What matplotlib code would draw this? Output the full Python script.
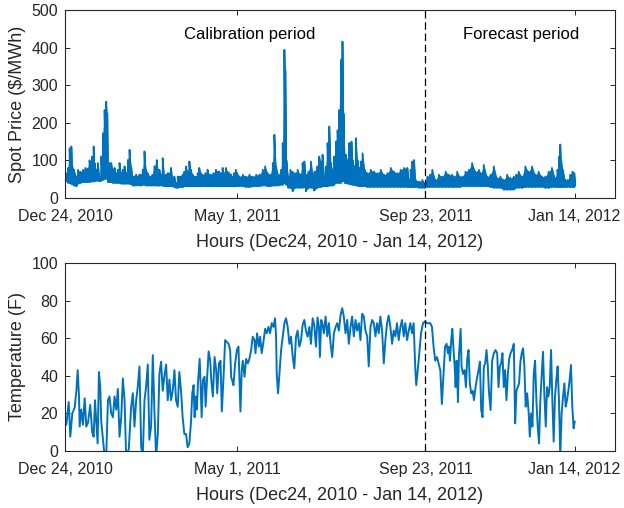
import matplotlib
matplotlib.use("Agg")
import matplotlib.pyplot as plt
import numpy as np

# -----------------------------
# Data (days since Dec 24, 2010)
# -----------------------------
PRICE_DAY = [
    0.5, 2.3, 3.5, 4.8, 5.5, 6.8, 8.6, 9.8, 11.6, 13.6, 15.4, 16.9, 18.6, 19.9,
    20.6, 21.7, 22.4, 23.7, 24.9, 26.2, 27.4, 28.7, 30.0, 31.2, 32.0, 32.7,
    33.7, 35.0, 36.3, 37.5, 38.8, 40.0, 41.3, 42.6, 43.8, 45.1, 46.3, 47.6,
    48.9, 50.1, 51.4, 52.6, 53.9, 55.1, 56.4, 57.7, 58.9, 60.2, 61.4, 62.7,
    64.5, 66.0, 67.7, 69.5, 70.5, 71.5, 72.8, 74.0, 75.3, 76.6, 77.8, 79.1,
    80.3, 81.6, 82.8, 84.1, 85.4, 86.6, 87.9, 89.1, 90.4, 91.7, 92.9, 94.2,
    95.4, 96.7, 98.0, 99.2, 100.5, 101.7, 103.0, 104.3, 106.3, 108.0, 109.3,
    110.6, 112.3, 114.3, 115.6, 116.8, 118.1, 119.4, 120.6, 121.9, 123.1,
    124.4, 125.7, 126.9, 128.2, 129.4, 132.2, 134.7, 137.2, 139.7, 142.3,
    144.8, 147.3, 149.8, 151.6, 153.6, 155.6, 157.4, 158.6, 159.9, 161.6,
    163.7, 164.9, 166.2, 166.9, 167.7, 169.2, 170.7, 172.5, 174.2, 176.2,
    178.3, 180.0, 181.3, 182.5, 184.3, 186.3, 187.8, 188.8, 190.9, 192.6,
    193.9, 195.1, 196.4, 197.7, 198.9, 200.2, 201.4, 202.7, 203.9, 205.2,
    206.5, 207.7, 209.0, 210.2, 211.0, 212.0, 212.8, 214.0, 215.3, 216.0,
    217.0, 218.0, 219.1, 220.3, 221.6, 222.8, 224.1, 225.4, 227.1, 229.1,
    231.6, 234.2, 236.7, 239.2, 241.7, 244.2, 246.8, 249.3, 251.8, 254.3,
    256.8, 259.3, 260.6, 261.8, 263.1, 264.4, 265.6, 268.1, 270.7, 272.4,
    274.4, 276.4, 278.2, 280.7, 283.2, 285.8, 288.3, 290.8, 293.3, 295.1,
    297.1, 299.1, 300.9, 303.4, 305.9, 308.4, 311.0, 313.5, 315.2, 317.2,
    319.8, 322.3, 324.8, 327.3, 329.8, 332.4, 334.9, 337.4, 339.9, 341.7,
    343.7, 346.2, 348.7, 351.2, 353.8, 356.3, 358.8, 361.3, 363.8, 366.3,
    368.9, 371.4, 373.1, 374.4, 375.2, 375.9, 377.2, 378.9, 380.7, 382.7,
    384.5, 385.8, 386.5,
]
PRICE_LOW = [
    45, 40, 40, 38, 36, 33, 31, 38, 40, 42, 42, 42, 42, 44,
    44, 44, 44, 46, 46, 44, 46, 48, 50, 55, 50, 42,
    42, 42, 40, 40, 40, 40, 40, 38, 38, 38, 38, 38,
    38, 36, 33, 33, 33, 35, 33, 33, 35, 35, 33, 33,
    33, 33, 33, 33, 33, 33, 33, 33, 31, 31, 31, 31,
    31, 31, 29, 27, 27, 29, 29, 29, 31, 31, 31, 31,
    31, 31, 31, 31, 31, 31, 31, 31, 31, 31, 31,
    31, 31, 31, 31, 31, 31, 31, 31, 31, 31,
    31, 31, 31, 31, 31, 31, 31, 29, 29, 31,
    31, 31, 33, 33, 31, 31, 33, 33, 33, 33,
    35, 35, 40, 40, 35, 27, 27, 18, 27, 27,
    27, 27, 29, 18, 27, 27, 27, 20, 27, 29,
    29, 31, 31, 31, 31, 33, 33, 33, 35, 40,
    40, 40, 40, 45, 45, 40, 40, 38, 38, 36,
    36, 35, 35, 33, 33, 31, 31, 31, 31, 29,
    29, 29, 29, 29, 29, 29, 29, 29, 29, 29,
    29, 29, 29, 29, 29, 29, 29, 27, 27, 27,
    29, 29, 29, 29, 29, 29, 29, 29, 29, 29,
    29, 29, 31, 31, 31, 31, 31, 31, 31, 31,
    31, 29, 27, 27, 27, 22, 22, 22, 22, 27,
    27, 27, 29, 29, 29, 29, 29, 29, 27, 27,
    29, 29, 29, 29, 29, 29, 29, 29, 29, 29,
    29, 29, 33,
]
PRICE_HIGH = [
    66, 80, 132, 137, 84, 75, 57, 75, 70, 75, 80, 78, 100, 85,
    110, 137, 93, 75, 93, 50, 110, 172, 234, 256, 225, 50,
    93, 93, 75, 80, 66, 75, 93, 66, 75, 84, 66, 101,
    128, 84, 57, 57, 62, 57, 62, 62, 75, 124, 75, 66,
    57, 62, 84, 101, 75, 75, 62, 106, 57, 62, 66, 66,
    80, 48, 57, 40, 57, 57, 57, 62, 70, 84, 70, 97,
    75, 62, 57, 57, 66, 80, 66, 62, 66, 75, 62,
    62, 66, 75, 70, 70, 66, 80, 66, 80, 70,
    66, 62, 57, 66, 75, 57, 62, 57, 62, 57,
    62, 62, 75, 84, 66, 62, 93, 168, 84, 62,
    75, 146, 394, 340, 100, 57, 75, 70, 66, 75,
    62, 93, 97, 62, 70, 97, 62, 70, 84, 110,
    97, 115, 57, 84, 146, 190, 93, 75, 110, 150,
    180, 234, 367, 416, 225, 110, 115, 100, 146, 90,
    150, 100, 84, 159, 100, 80, 97, 119, 75, 66,
    75, 70, 66, 75, 62, 66, 80, 70, 66, 75,
    80, 80, 48, 75, 97, 101, 48, 44, 48, 40,
    57, 62, 75, 48, 62, 57, 70, 62, 62, 57,
    70, 57, 57, 70, 75, 93, 70, 75, 66, 88,
    57, 62, 84, 53, 57, 48, 62, 53, 57, 62,
    70, 57, 84, 70, 84, 62, 70, 57, 57, 70,
    80, 53, 75, 110, 142, 100, 75, 48, 48, 62,
    70, 66, 48,
]

TEMP_DAY = [
    0.0, 1.0, 2.8, 4.0, 5.5, 7.3, 8.6, 9.6, 10.6, 11.1, 12.3, 13.6, 14.9,
    16.1, 17.4, 19.1, 20.6, 21.7, 22.7, 23.7, 24.7, 25.7, 26.7, 27.4, 28.7,
    30.0, 31.2, 32.5, 33.7, 35.0, 36.3, 37.5, 38.8, 40.0, 41.3, 42.6, 43.8,
    45.1, 46.3, 48.3, 50.1, 51.4, 52.6, 53.9, 55.1, 56.4, 57.7, 58.9, 60.2,
    61.4, 62.7, 63.9, 65.2, 66.5, 67.7, 69.0, 70.3, 71.5, 72.8, 74.0, 75.3,
    76.6, 77.8, 79.1, 80.3, 81.6, 82.9, 84.1, 85.4, 86.6, 87.9, 89.1, 90.4,
    91.7, 92.9, 94.2, 95.4, 96.4, 97.4, 98.2, 98.9, 99.9, 100.7, 102.0,
    102.7, 103.5, 104.5, 105.7, 106.5, 107.5, 108.8, 110.0, 110.8, 112.0,
    113.3, 114.5, 115.3, 116.6, 117.8, 118.8, 120.1, 121.3, 122.6, 123.9,
    125.1, 125.9, 126.6, 127.6, 128.9, 130.2, 131.4, 132.2, 132.9, 133.9,
    134.7, 136.0, 137.2, 138.5, 139.7, 141.0, 142.2, 143.5, 144.3, 145.5,
    146.8, 147.8, 149.0, 150.3, 151.6, 152.8, 154.1, 155.3, 156.6, 157.9,
    159.1, 159.9, 160.4, 161.4, 162.4, 163.7, 164.9, 166.2, 167.4, 168.7,
    170.0, 171.2, 172.5, 173.7, 175.0, 176.2, 177.5, 178.8, 180.0, 181.3,
    182.5, 183.8, 185.1, 186.3, 187.6, 188.8, 190.1, 191.3, 192.4, 193.1,
    194.1, 194.9, 196.1, 197.4, 198.7, 199.9, 201.2, 202.4, 203.7, 205.0,
    206.2, 207.5, 208.7, 210.0, 211.2, 212.5, 213.8, 215.0, 216.3, 217.5,
    218.8, 220.1, 221.3, 222.6, 223.8, 225.1, 226.4, 227.6, 228.9, 230.1,
    231.4, 232.7, 233.9, 235.2, 236.4, 237.7, 238.9, 240.2, 241.5, 242.7,
    244.0, 245.2, 246.5, 247.8, 249.0, 250.3, 251.5, 252.8, 254.1, 255.3,
    256.6, 257.8, 259.1, 260.4, 261.6, 262.9, 264.1, 265.4, 266.1, 267.9,
    269.7, 271.2, 272.9, 274.2, 276.7, 278.0, 279.2, 280.5, 281.8, 284.3,
    285.5, 286.8, 287.9, 289.1, 290.1, 290.9, 291.6, 292.6, 293.4, 294.2,
    295.2, 295.9, 296.7, 297.7, 298.4, 299.7, 300.4, 301.5, 302.7, 303.7,
    304.7, 305.7, 306.7, 307.7, 308.8, 309.8, 311.0, 312.3, 313.3, 314.3,
    315.3, 316.3, 317.3, 318.3, 319.3, 320.3, 321.1, 322.4, 323.6, 324.9,
    326.1, 327.4, 328.4, 329.4, 330.4, 331.4, 332.4, 333.4, 334.4, 335.5,
    336.5, 337.5, 338.7, 340.0, 341.0, 342.0, 343.0, 344.0, 345.0, 346.0,
    347.0, 348.0, 349.0, 350.1, 351.3, 352.1, 353.1, 354.1, 355.1, 356.1,
    357.1, 358.1, 359.1, 360.1, 361.1, 362.1, 363.1, 364.2, 365.2, 366.2,
    367.2, 368.2, 369.2, 370.2, 371.2, 372.2, 373.2, 374.2, 375.2, 376.2,
    377.3, 378.3, 379.3, 380.3, 381.3, 382.3, 383.3, 384.3, 385.3, 386.1,
]
TEMP_F = [
    15.5, 14, 26, 7.6, 20, 23, 32, 43, 29, 13, 22, 14, 28,
    13, 15, 24.5, 10, 7.6, 27, 15, 4, 42, 34, 16, 6.7,
    -3, -3, 27, 29, 20, 18, 29, 22, 33, 7.6, 18, 38.6,
    27, -3, 1, 23.5, 30.7, 13, 27, 34, 45, 2.3, -3, 27,
    34, 46, 6, 13, 51, 22, -3, 9, 41, 47.5, 32, 40,
    46, 27, 38, 27, 32, 43, 27, 23.5, 42, 32, 18, 9,
    9, 2, 4, 15, 30.7, 35, 18, 29, 22, 36, 49,
    36, 18, 37.8, 39.5, 23.6, 37, 53, 48, 37.8, 29,
    50, 43, 30.7, 46.6, 48, 21, 39.5, 59, 58, 57,
    53.7, 39, 37.8, 35, 46.6, 53.7, 55.5, 37.8, 21, 43,
    48, 39.5, 49, 46.6, 49, 53.7, 60.8, 59, 52, 62.6,
    55.5, 60.8, 52, 58, 65, 62.6, 66, 62.6, 68, 66,
    70.6, 60.8, 41, 30.7, 41, 53.7, 60.8, 68, 70.6, 66,
    57, 60.8, 50, 44, 60.8, 64, 55.5, 59, 67, 69.7,
    64, 60.8, 66, 57, 70.6, 67, 55.5, 71, 66, 50,
    69.7, 68, 62.6, 71.5, 61, 68, 57, 50, 62.6, 66,
    68, 64, 72, 76, 71.5, 62.6, 69.7, 57, 66, 71.5,
    61, 69.7, 64, 68, 59, 73, 71.5, 64, 61, 45,
    66, 69.7, 68, 61, 68, 62.6, 71.5, 64, 46.6, 59,
    68, 72, 66, 57, 64, 61, 68, 59, 66, 69.7,
    61, 68, 59, 64, 68, 62.6, 68, 43, 35, 48,
    62.6, 68, 69, 68, 68, 66, 55.5, 48, 50, 43,
    25, 41, 55.5, 57, 52, 55.5, 48, 59, 65, 55.5,
    45, 34, 48, 26, 50, 65, 45, 41, 43, 34,
    49, 53.7, 36, 30.7, 32, 27, 34, 39.5, 43, 47.5,
    21.8, 18, 45, 46.6, 53.7, 45, 32, 21.8, 48, 52,
    53.7, 52, 34, 45, 46.6, 52, 34, 43, 27, 41,
    49, 52, 53.7, 57, 14.7, 32, 34, 36, 47.5, 52,
    54.6, 45, 23.6, 30.7, 20, 7.6, 20, 13, 41, 48,
    27, 13, 4, 27, 39.5, 52.8, 30.7, 13, 34, 29,
    34, 53.7, 27, 5, 29, 37.8, 45, 27, -3, 20,
    29, 36, 23.6, 27, 32, 37.8, 45.7, 23.6, 12, 15.6,
]

TICK_LABELS = ["Dec 24, 2010", "May 1, 2011", "Sep 23, 2011", "Jan 14, 2012"]
TICK_HOURS = [0, 3130, 6552, 9264]
SPLIT_HOUR = 6552
XLABEL = "Hours (Dec24, 2010 - Jan 14, 2012)"

# -----------------------------
# Style
# -----------------------------
LINE_COLOR = "#0072BD"
TEXT_COLOR = "#262626"

plt.rcParams.update({
    "font.family": ["Liberation Sans", "DejaVu Sans"],
    "font.size": 11.5,
    "axes.edgecolor": TEXT_COLOR,
    "axes.linewidth": 0.8,
    "xtick.color": TEXT_COLOR,
    "ytick.color": TEXT_COLOR,
    "xtick.direction": "in",
    "ytick.direction": "in",
    "xtick.top": True,
    "ytick.right": True,
    "xtick.major.size": 3.5,
    "ytick.major.size": 3.5,
    "xtick.major.width": 0.7,
    "ytick.major.width": 0.7,
    "xtick.labelsize": 11.5,
    "ytick.labelsize": 11.5,
    "axes.labelsize": 13,
    "axes.labelcolor": TEXT_COLOR,
})

fig = plt.figure(figsize=(6.24, 5.08), dpi=100)
ax1 = fig.add_axes([0.1042, 0.6102, 0.8814, 0.3701])
ax2 = fig.add_axes([0.1042, 0.1122, 0.8814, 0.3701])

# Price: solid band between daily low and high, plus a zigzag for the spikes
price_days = np.array(PRICE_DAY) * 24
ax1.fill_between(price_days, PRICE_LOW, PRICE_HIGH, color=LINE_COLOR,
                 linewidth=0)
price_hours = np.repeat(price_days, 2)
price_vals = np.column_stack([PRICE_LOW, PRICE_HIGH]).ravel()
ax1.plot(price_hours, price_vals, color=LINE_COLOR, linewidth=1.3)

ax2.plot(np.array(TEMP_DAY) * 24, TEMP_F, color=LINE_COLOR, linewidth=1.4)

for ax in (ax1, ax2):
    ax.axvline(SPLIT_HOUR, color="black", linestyle=(0, (6, 3)), linewidth=0.9)
    ax.set_xlim(0, 10000)
    ax.set_xticks(TICK_HOURS)
    ax.set_xticklabels(TICK_LABELS)
    ax.set_xlabel(XLABEL, labelpad=7)
    ax.tick_params(axis="x", pad=8)
    ax.tick_params(axis="y", pad=5)

ax1.set_ylim(0, 500)
ax1.set_yticks(np.arange(0, 501, 100))
ax1.set_ylabel("Spot Price (\\$/MWh)", labelpad=4)
ax1.text(3350, 436, "Calibration period", ha="center", va="center",
         fontsize=12, color="black")
ax1.text(8300, 436, "Forecast period", ha="center", va="center",
         fontsize=12, color="black")

ax2.set_ylim(0, 100)
ax2.set_yticks(np.arange(0, 101, 20))
ax2.set_ylabel("Temperature (F)", labelpad=4)

fig.savefig("out.png", dpi=100)
